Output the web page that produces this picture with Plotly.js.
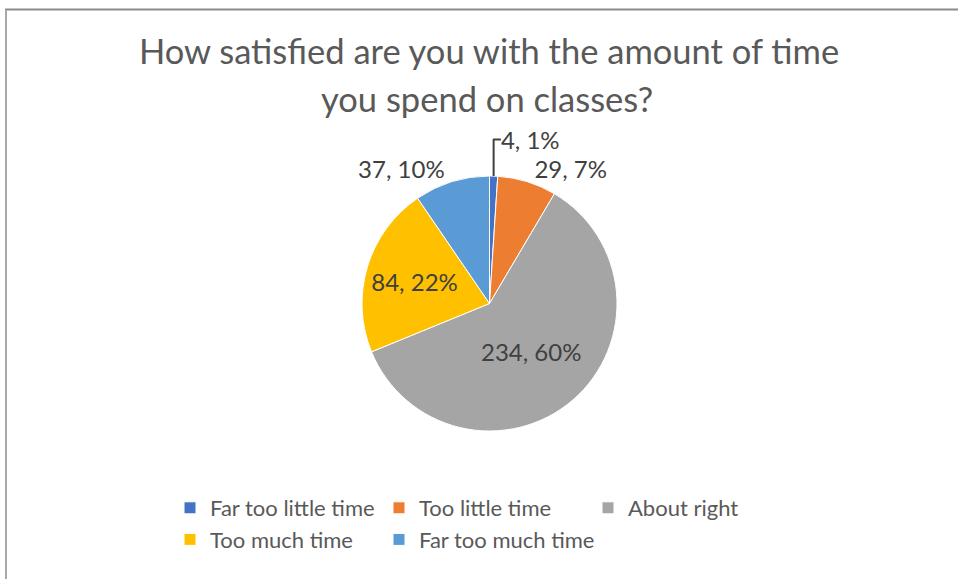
<!DOCTYPE html>
<html>
<head>
<meta charset="utf-8">
<script src="https://cdn.plot.ly/plotly-3.0.1.min.js"></script>
<style>
html,body{margin:0;padding:0;background:#fff;}
#chart{width:958px;height:579px;}
</style>
</head>
<body>
<div id="chart"></div>
<script>
var categories = ["Far too little time", "Too little time", "About right", "Too much time", "Far too much time"];
var counts = [4, 29, 234, 84, 37];
var colors = ["#4472C4", "#ED7D31", "#A5A5A5", "#FFC000", "#5B9BD5"];
var labelPositions = ["outside", "outside", "inside", "inside", "outside"];
var titleLine1 = "How satisfied are you with the amount of time";
var titleLine2 = "you spend on classes?";

var W = 958, H = 579;
var ML = 150, MR = 150;
var GW = W - ML - MR;
function px(x) { return (x - ML) / GW; }
function py(y) { return 1 - y / H; }

var cx = 489.5, cy = 303.5, r = 127.5;

var labelFont = {family: "Lato, sans-serif", size: 24, color: "#404040"};

var trace = {
  type: "pie",
  labels: categories,
  values: counts,
  sort: false,
  direction: "clockwise",
  rotation: 0,
  marker: {colors: colors, line: {color: "#ffffff", width: 1}},
  texttemplate: "%{value}, %{percent:.0%}",
  textposition: labelPositions,
  insidetextorientation: "horizontal",
  textfont: labelFont,
  outsidetextfont: labelFont,
  insidetextfont: labelFont,
  domain: {x: [px(cx - r), px(cx + r)], y: [py(cy + r), py(cy - r)]},
  hoverinfo: "label+value+percent",
  showlegend: true
};

var layout = {
  width: W, height: H,
  margin: {l: ML, r: MR, t: 0, b: 0, autoexpand: false},
  paper_bgcolor: "#ffffff",
  font: {family: "Lato, sans-serif", color: "#595959"},
  title: {
    text: titleLine1,
    x: 489 / W, xanchor: "center", xref: "container",
    y: py(52), yanchor: "middle", yref: "container",
    font: {family: "Lato, sans-serif", size: 34.5, color: "#595959"}
  },
  annotations: [{
    text: titleLine2, showarrow: false,
    x: px(487), xanchor: "center", xref: "paper",
    y: py(99), yanchor: "middle", yref: "paper",
    font: {family: "Lato, sans-serif", size: 34.5, color: "#595959"}
  }],
  legend: {
    orientation: "h",
    x: px(170), xanchor: "left",
    y: py(487), yanchor: "top",
    entrywidth: 164, entrywidthmode: "pixels",
    font: {family: "Lato, sans-serif", size: 22, color: "#595959"},
    itemwidth: 30,
    traceorder: "normal"
  },
  shapes: [
    {type: "line", xref: "paper", yref: "paper", x0: px(5), x1: px(W), y0: py(9.5), y1: py(9.5), line: {color: "#8a8a8a", width: 2}},
    {type: "line", xref: "paper", yref: "paper", x0: px(6), x1: px(6), y0: 0, y1: py(9.5), line: {color: "#a8a8a8", width: 2}}
  ]
};

Plotly.newPlot("chart", [trace], layout, {displayModeBar: false, staticPlot: true});
</script>
</body>
</html>
